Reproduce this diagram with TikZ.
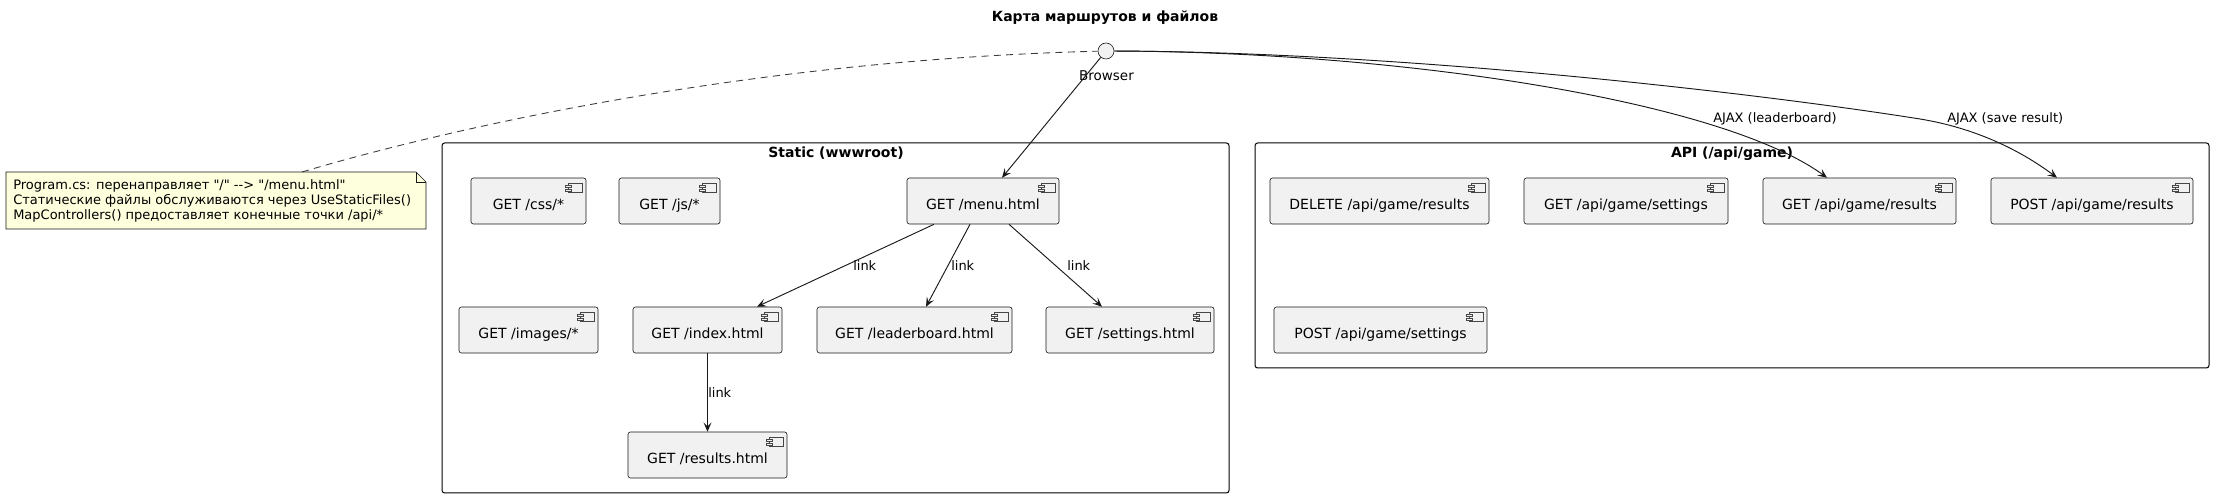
\documentclass[tikz,border=0pt]{standalone}
\usepackage{fontspec}
\newfontfamily\dejavu{DejaVu Sans}
\usetikzlibrary{arrows.meta,calc}
\definecolor{compfill}{HTML}{F1F1F1}
\definecolor{edgecol}{HTML}{181818}
\definecolor{notefill}{HTML}{FEFFDD}
\newcommand\mkcomp[6]{%
  \node[comp, minimum width={(#3-#2)*0.75pt}, minimum height={(#5-#4)*0.75pt}] (#1) at ({(#2+#3)/2},{(#4+#5)/2}) {};
  \node[comptext] (#1t) at ($(#1.center)+(0,5.6)$) {#6};
  \draw[icon] ($(#1.north east)+(-18,6)$) rectangle ($(#1.north east)+(-4,15)$);
  \draw[icon] ($(#1.north east)+(-21,8)$) rectangle ($(#1.north east)+(-15,10)$);
  \draw[icon] ($(#1.north east)+(-21,12)$) rectangle ($(#1.north east)+(-15,14)$);
}
\begin{document}
\begin{tikzpicture}[x=0.75pt,y=-0.75pt, font=\dejavu,
  comp/.style={draw=edgecol, line width=0.45pt, fill=compfill, rounded corners=1.8pt, inner sep=0pt},
  comptext/.style={font=\dejavu\fontsize{10.5}{12}\selectfont, inner sep=0pt, text height=0.75em, text depth=0.25em},
  icon/.style={draw=edgecol!80, line width=0.35pt, fill=compfill},
  pkg/.style={draw=black, line width=0.75pt, rounded corners=2pt},
  pkgtitle/.style={font=\dejavu\fontsize{10.5}{12}\selectfont\bfseries, inner sep=0pt},
  elabel/.style={font=\dejavu\fontsize{9.75}{11}\selectfont, inner sep=0pt, anchor=west},
  arr/.style={draw=edgecol, line width=0.7pt, -{Stealth[length=7pt,width=6pt,inset=3pt]}},
  notedash/.style={draw=edgecol!85, line width=0.65pt, dash pattern=on 5.25pt off 4pt},
]
\useasboundingbox (0,0) rectangle (2214,498);

% title
\node[font=\dejavu\fontsize{10.5}{12}\selectfont\bfseries, inner sep=0pt] (title) at (1105,18) {Карта маршрутов и файлов};

% browser interface
\node[circle, draw=edgecol, line width=0.45pt, fill=compfill, minimum size=16*0.75pt, inner sep=0pt] (browser) at (1106,51) {};
\node[font=\dejavu\fontsize{10.1}{12}\selectfont, inner sep=0pt] (browserlbl) at (1106.5,76) {Browser};

% note
\filldraw[fill=notefill, draw=edgecol, line width=0.45pt] (6,172) -- (416,172) -- (426,182) -- (426,229) -- (6,229) -- cycle;
\draw[edgecol, line width=0.45pt] (416,172) -- (416,182) -- (426,182);
\node[font=\dejavu\fontsize{9.75}{11.5}\selectfont, align=left, anchor=west, inner sep=0pt] (note) at (13,201) {Program.cs: перенаправляет "/" --> "/menu.html"\\Статические файлы обслуживаются через UseStaticFiles()\\MapControllers() предоставляет конечные точки /api/*};
\coordinate (notetop) at (302,172);

% packages
\draw[pkg] (442,143) rectangle (1229,493);
\node[pkgtitle] (statictitle) at (836,153.5) {Static (wwwroot)};
\draw[pkg] (1255,143) rectangle (2209,368);
\node[pkgtitle] (apititle) at (1732,153.5) {API (/api/game)};

% static components
\mkcomp{css}{471}{586}{178}{224}{GET /css/*}
\mkcomp{js}{619}{720}{178}{224}{GET /js/*}
\mkcomp{menu}{907}{1059}{178}{224}{GET /menu.html}
\mkcomp{images}{459}{598}{307}{353}{GET /images/*}
\mkcomp{index}{633}{782}{307}{353}{GET /index.html}
\mkcomp{lead}{817}{1012}{307}{353}{GET /leaderboard.html}
\mkcomp{sett}{1046}{1214}{307}{353}{GET /settings.html}
\mkcomp{results}{628}{787}{432}{478}{GET /results.html}

% api components
\mkcomp{del}{1270}{1489}{178}{224}{DELETE /api/game/results}
\mkcomp{gset}{1524}{1728}{178}{224}{GET /api/game/settings}
\mkcomp{gres}{1763}{1956}{178}{224}{GET /api/game/results}
\mkcomp{pres}{1991}{2193}{178}{224}{POST /api/game/results}
\mkcomp{pset}{1274}{1487}{307}{353}{POST /api/game/settings}

% connectors
\draw[notedash] (notetop) .. controls (450,128) and (750,60) .. (browser);
\draw[arr] (browser) -- ($(menu.north)+(19,0)$);
\draw[arr] ($(menu.south)+(-49,0)$) -- ($(index.north)+(49.5,0)$);
\draw[arr] ($(menu.south)+(-13,0)$) -- ($(lead.north)+(11.5,0)$);
\draw[arr] ($(menu.south)+(26,0)$) -- ($(sett.north)+(-28,0)$);
\draw[arr] (index.south) -- (results.north);
\draw[arr] (browser) .. controls (1400,52) and (1720,100) .. ($(gres.north)+(-32.5,0)$);
\draw[arr] (browser) .. controls (1400,52) and (1750,92) .. (1920,119) .. controls (1975,128) and (2020,150) .. ($(pres.north)+(-35,0)$);

% connector labels
\node[elabel] (l1) at (853,266) {link};
\node[elabel] (l2) at (951,266) {link};
\node[elabel] (l3) at (1067,266) {link};
\node[elabel] (l4) at (708,393) {link};
\node[elabel] (l5) at (1713,119) {AJAX (leaderboard)};
\node[elabel] (l6) at (1947,119) {AJAX (save result)};
\end{tikzpicture}
\end{document}
